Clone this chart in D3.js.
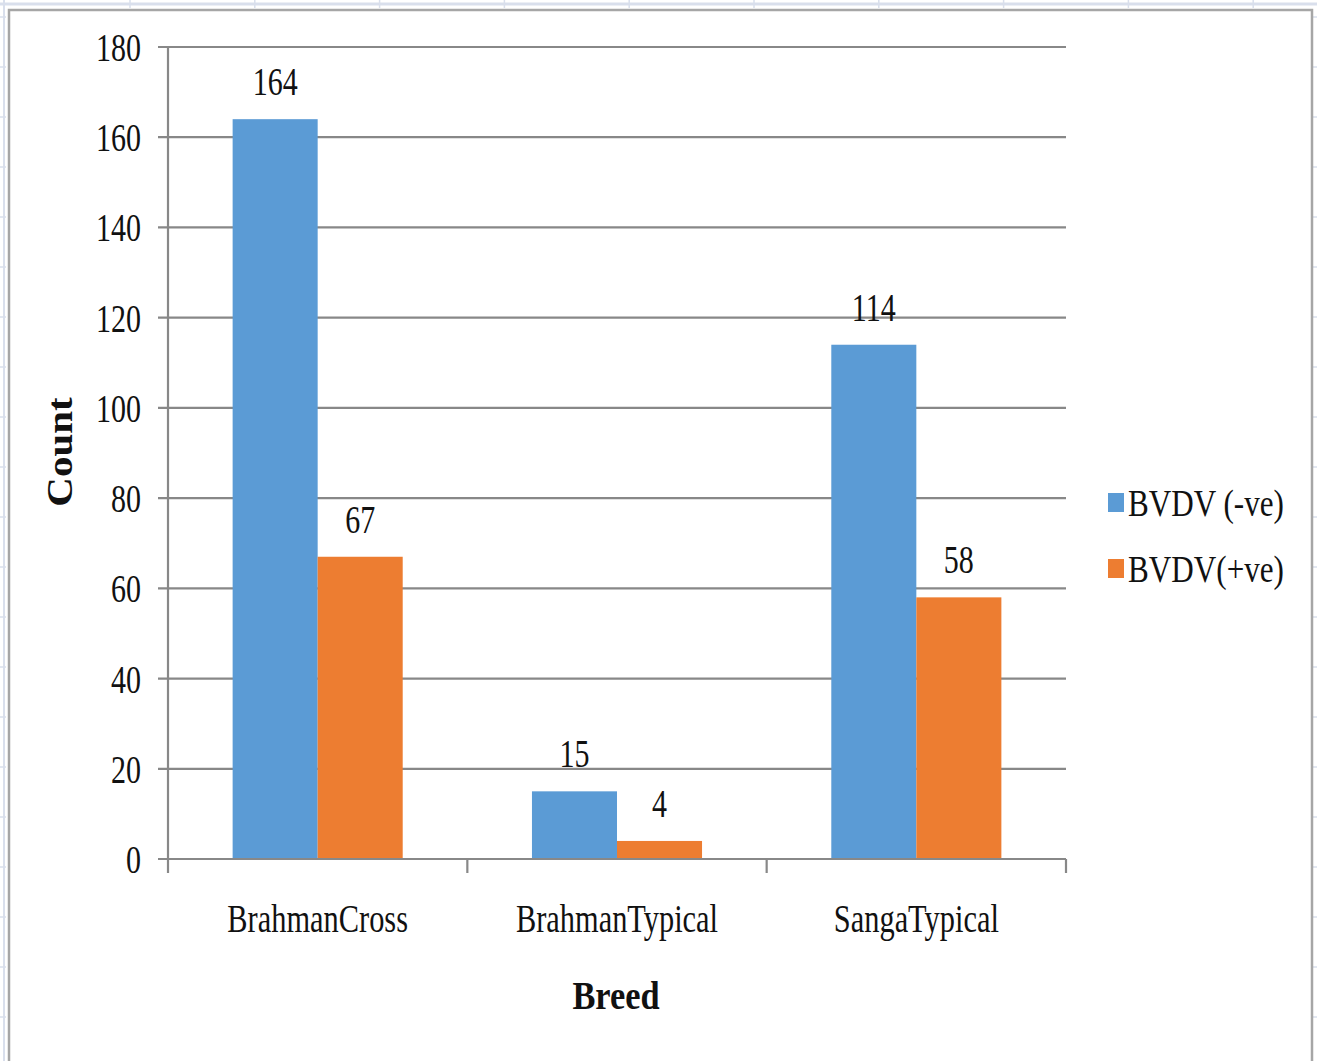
<!DOCTYPE html>
<html lang="en">
<head>
  <meta charset="UTF-8">
  <title>BVDV by Breed</title>
  <script src="https://d3js.org/d3.v7.min.js"></script>
  <style>
    html, body { margin: 0; padding: 0; background: #fff; }
    svg { display: block; }
    text { font-family: "Liberation Serif", "Times New Roman", serif; fill: #111; }
  </style>
</head>
<body>
  <script>
    // data
    const breeds = ["BrahmanCross", "BrahmanTypical", "SangaTypical"];
    const series = ["BVDV (-ve)", "BVDV(+ve)"];
    const negative = [164, 15, 114];
    const positive = [67, 4, 58];
    const yTicks = [0, 20, 40, 60, 80, 100, 120, 140, 160, 180];
    const colors = ["#5B9BD5", "#ED7D31"];

    const width = 1317, height = 1061;
    const svg = d3.select("body").append("svg")
      .attr("width", width)
      .attr("height", height);

    // spreadsheet bits around the chart object
    const deco = svg.append("g").attr("stroke", "#d9dfec");
    deco.append("line").attr("x1", 0).attr("x2", width).attr("y1", 4).attr("y2", 4).attr("stroke-width", 3);
    deco.append("line").attr("x1", 4).attr("x2", 4).attr("y1", 0).attr("y2", height).attr("stroke-width", 2);
    d3.range(130, width, 124.8).forEach(x => {
      deco.append("line").attr("x1", x).attr("x2", x).attr("y1", 0).attr("y2", 8).attr("stroke-width", 1.5);
    });
    d3.range(17, height, 50).forEach(y => {
      deco.append("line").attr("x1", 0).attr("x2", 6).attr("y1", y).attr("y2", y).attr("stroke-width", 1.5);
      deco.append("line").attr("x1", 1313).attr("x2", width).attr("y1", y).attr("y2", y).attr("stroke-width", 1.5);
    });

    svg.append("rect")
      .attr("x", 9).attr("y", 10)
      .attr("width", 1303).attr("height", height + 20)
      .attr("fill", "#fff")
      .attr("stroke", "#a6a6a6")
      .attr("stroke-width", 2.5);

    const plot = { left: 168, right: 1066, top: 47, bottom: 859 };

    const x0 = d3.scaleBand().domain(breeds).range([plot.left, plot.right]);
    const x1 = d3.scaleBand().domain(series)
      .range([0, x0.bandwidth()]).paddingInner(0).paddingOuter(0.76);
    const y = d3.scaleLinear().domain([0, 180]).range([plot.bottom, plot.top]);

    // condensed-looking text helper
    function label(g, x, yy, str, o) {
      const t = g.append("g").attr("transform", `translate(${x},${yy})`)
        .append("text")
        .attr("transform", `scale(${o.sx},1)` + (o.rot ? ` rotate(${o.rot})` : ""))
        .attr("text-anchor", o.anchor || "middle")
        .attr("font-size", o.size)
        .attr("font-weight", o.bold ? "bold" : "normal")
        .text(str);
      return t;
    }

    // gridlines + y ticks
    svg.append("g")
      .selectAll("line")
      .data(yTicks.filter(d => d > 0))
      .join("line")
      .attr("x1", plot.left - 10).attr("x2", plot.right)
      .attr("y1", d => y(d)).attr("y2", d => y(d))
      .attr("stroke", "#888").attr("stroke-width", 2.2);

    const tickLabels = svg.append("g");
    yTicks.forEach(d => label(tickLabels, 141, y(d) + 14, d, { size: 40, sx: 0.75, anchor: "end" }));

    // bars
    const rows = breeds.map((b, i) => ({ breed: b, values: [negative[i], positive[i]] }));
    const groups = svg.append("g")
      .selectAll("g")
      .data(rows)
      .join("g")
      .attr("transform", d => `translate(${x0(d.breed)},0)`);

    groups.selectAll("rect")
      .data(d => d.values.map((v, j) => ({ key: series[j], value: v, j })))
      .join("rect")
      .attr("x", d => x1(d.key))
      .attr("width", x1.bandwidth())
      .attr("y", d => y(d.value))
      .attr("height", d => y(0) - y(d.value))
      .attr("fill", d => colors[d.j]);

    groups.each(function(row) {
      const g = d3.select(this);
      row.values.forEach((v, j) => {
        label(g, x1(series[j]) + x1.bandwidth() / 2, y(v) - 24, v, { size: 40, sx: 0.75 });
      });
    });

    // axes lines
    const axis = svg.append("g").attr("stroke", "#888").attr("stroke-width", 2.2);
    axis.append("line")
      .attr("x1", plot.left).attr("x2", plot.left)
      .attr("y1", plot.top).attr("y2", plot.bottom);
    axis.append("line")
      .attr("x1", plot.left - 10).attr("x2", plot.right)
      .attr("y1", plot.bottom).attr("y2", plot.bottom);
    const edges = breeds.map(b => x0(b)).concat([plot.right]);
    edges.forEach(ex => {
      axis.append("line")
        .attr("x1", ex).attr("x2", ex)
        .attr("y1", plot.bottom).attr("y2", plot.bottom + 14);
    });

    // category labels
    const cats = svg.append("g");
    breeds.forEach(b => label(cats, x0(b) + x0.bandwidth() / 2, 932, b, { size: 40, sx: 0.76 }));

    // axis titles
    label(svg, 616, 1009, "Breed", { size: 40, sx: 0.86, bold: true });
    label(svg, 72, 452, "Count", { size: 41, sx: 0.85, bold: true, rot: -90 });

    // legend
    const legend = svg.append("g");
    series.forEach((s, i) => {
      const ly = 502 + i * 66;
      legend.append("rect")
        .attr("x", 1108).attr("y", ly - 9)
        .attr("width", 16).attr("height", 19)
        .attr("fill", colors[i]);
      label(legend, 1128, ly + 14, s, { size: 38, sx: 0.82, anchor: "start" });
    });
  </script>
</body>
</html>
